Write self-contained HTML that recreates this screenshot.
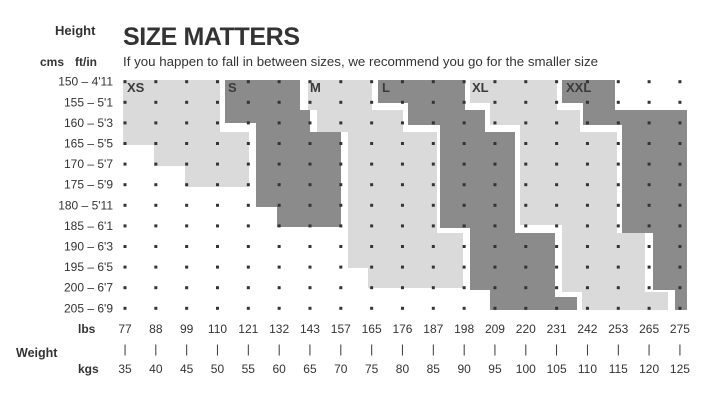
<!DOCTYPE html><html><head><style>body{margin:0;background:#fff}</style></head><body>
<svg width="718" height="400" xmlns="http://www.w3.org/2000/svg" font-family="Liberation Sans, sans-serif">
<g fill="#dadada">
<polygon points="123,80 220,80 220,132 249,132 249,187 185,187 185,166 154,166 154,145 123,145"/>
<polygon points="308,80 372,80 372,110 403,110 403,132 437,132 437,233 463,233 463,288 368,288 368,268 348,268 348,132 317,132 317,110 308,110"/>
<polygon points="470,80 557,80 557,110 580,110 580,132 617,132 617,233 645,233 645,292 668,292 668,310 582,310 582,292 562,292 562,225 520,225 520,125 490,125 490,103 470,103"/>
</g>
<g fill="#8b8b8b">
<polygon points="225,80 300,80 300,110 310,110 310,132 341,132 341,227 277,227 277,207 256,207 256,123 225,123"/>
<polygon points="378,80 465,80 465,110 485,110 485,132 515,132 515,233 555,233 555,297 577,297 577,310 490,310 490,290 470,290 470,228 440,228 440,125 408,125 408,103 378,103"/>
<polygon points="562,80 615,80 615,110 687,110 687,310 675,310 675,290 653,290 653,233 622,233 622,125 583,125 583,103 562,103"/>
</g>
<g fill="#333" id="dots"></g>
<g font-weight="bold" font-size="13" fill="#3a3a3a">
<text x="127" y="92">XS</text><text x="228" y="92">S</text><text x="310" y="92">M</text><text x="382" y="92">L</text><text x="472" y="92">XL</text><text x="566" y="92">XXL</text>
</g>
<text x="55" y="35" font-size="13" font-weight="bold" fill="#333">Height</text>
<text x="123" y="45" font-size="25" font-weight="bold" fill="#333" textLength="177">SIZE MATTERS</text>
<text x="123" y="66" font-size="12.5" fill="#333" textLength="475" lengthAdjust="spacingAndGlyphs">If you happen to fall in between sizes, we recommend you go for the smaller size</text>
<text x="40" y="66" font-size="12" font-weight="bold" fill="#333">cms</text><text x="75" y="66" font-size="12" font-weight="bold" fill="#333">ft/in</text>
<g font-size="12" fill="#333" text-anchor="end" id="rl"></g>
<text x="16" y="357" font-size="12.5" font-weight="bold" fill="#333">Weight</text>
<text x="78" y="333" font-size="12" font-weight="bold" fill="#333">lbs</text>
<text x="78" y="373" font-size="12" font-weight="bold" fill="#333">kgs</text>
<g font-size="12" fill="#333" text-anchor="middle" id="bl"></g>
</svg>
<script>
var ns="http://www.w3.org/2000/svg",d=document.getElementById("dots");
for(var i=0;i<19;i++)for(var j=0;j<12;j++){var r=document.createElementNS(ns,"rect");r.setAttribute("x",125+30.83*i-1.5);r.setAttribute("y",81.7+20.6*j-1.5);r.setAttribute("width",3);r.setAttribute("height",3);d.appendChild(r);}
var rl=["150 – 4'11","155 – 5'1","160 – 5'3","165 – 5'5","170 – 5'7","175 – 5'9","180 – 5'11","185 – 6'1","190 – 6'3","195 – 6'5","200 – 6'7","205 – 6'9"],g=document.getElementById("rl");
rl.forEach(function(t,j){var e=document.createElementNS(ns,"text");e.setAttribute("x",113);e.setAttribute("y",81.7+20.6*j+4);e.textContent=t;g.appendChild(e);});
var lb=[77,88,99,110,121,132,143,157,165,176,187,198,209,220,231,242,253,265,275],b=document.getElementById("bl");
lb.forEach(function(v,i){var x=125+30.83*i;[[333,v],[353,"|"],[373,35+5*i]].forEach(function(p){var e=document.createElementNS(ns,"text");e.setAttribute("x",x);e.setAttribute("y",p[0]);e.textContent=p[1];b.appendChild(e);});});
</script>
</body></html>
